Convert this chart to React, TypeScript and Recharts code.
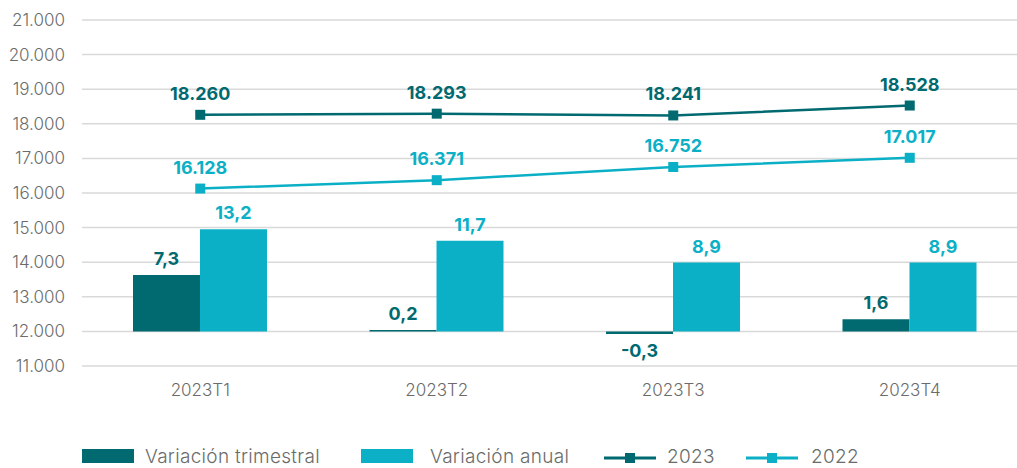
import React from 'react';
import {
  ComposedChart,
  Bar,
  Line,
  XAxis,
  YAxis,
  CartesianGrid,
  LabelList,
} from 'recharts';

const QUARTERS = ['2023T1', '2023T2', '2023T3', '2023T4'];
const VAR_TRIMESTRAL = [7.3, 0.2, -0.3, 1.6];
const VAR_ANUAL = [13.2, 11.7, 8.9, 8.9];
const SERIE_2023 = [18260, 18293, 18241, 18528];
const SERIE_2022 = [16128, 16371, 16752, 17017];
const Y_TICKS = [11000, 12000, 13000, 14000, 15000, 16000, 17000, 18000, 19000, 20000, 21000];
const NAMES = ['Variación trimestral', 'Variación anual', '2023', '2022'];

const DARK = '#006a70';
const LIGHT = '#0cb0c6';
const GRAY = '#6b6b6b';
const FONT = 'Inter, "Open Sans", sans-serif';

const data = QUARTERS.map((q, i) => ({
  name: q,
  trimestral: VAR_TRIMESTRAL[i],
  anual: VAR_ANUAL[i],
  y2023: SERIE_2023[i],
  y2022: SERIE_2022[i],
}));

const thousands = (v: number) => String(v).replace(/\B(?=(\d{3})+(?!\d))/g, '.');
const decimal = (v: number) => v.toFixed(1).replace('.', ',');

const squareDot = (color: string) => (props: any) => {
  const { cx, cy, index } = props;
  return <rect key={`dot-${index}`} x={cx - 5} y={cy - 5} width={10} height={10} fill={color} />;
};

const tickStyle = { fill: GRAY, fontSize: 17, fontWeight: 300, fontFamily: FONT };
const labelStyle = { fontSize: 18, fontWeight: 700, fontFamily: FONT };

// legend drawn by hand so it can sit exactly under the plot
const Legend = () => (
  <svg width={1017} height={468} style={{ position: 'absolute', left: 0, top: 0, pointerEvents: 'none' }}>
    <g fontFamily={FONT} fontSize={19} fontWeight={300} fill={GRAY} letterSpacing={0.3}>
      <rect x={82} y={449} width={52} height={14} fill={DARK} />
      <text x={145} y={463}>{NAMES[0]}</text>
      <rect x={361} y={449} width={52} height={14} fill={LIGHT} />
      <text x={430} y={463}>{NAMES[1]}</text>
      <line x1={604} x2={656} y1={458} y2={458} stroke={DARK} strokeWidth={3} />
      <rect x={625} y={453} width={10} height={10} fill={DARK} />
      <text x={667} y={463}>{NAMES[2]}</text>
      <line x1={746} x2={798} y1={458} y2={458} stroke={LIGHT} strokeWidth={3} />
      <rect x={767} y={453} width={10} height={10} fill={LIGHT} />
      <text x={811} y={463}>{NAMES[3]}</text>
    </g>
  </svg>
);

export default function App() {
  return (
    <div
      style={{
        position: 'absolute',
        left: 0,
        top: 0,
        width: 1017,
        height: 468,
        overflow: 'hidden',
        background: '#fff',
        fontFamily: FONT,
      }}
    >
      <ComposedChart
        width={1030}
        height={400}
        data={data}
        margin={{ top: 20, right: 2, bottom: 0, left: 0 }}
        barGap={0}
      >
        <CartesianGrid yAxisId="left" vertical={false} stroke="#d9d9d9" strokeWidth={1.5} />
        <XAxis
          dataKey="name"
          height={34}
          axisLine={false}
          tickLine={false}
          tickSize={0}
          tickMargin={18}
          tick={tickStyle}
        />
        <YAxis
          yAxisId="left"
          width={82}
          domain={[11000, 21000]}
          ticks={Y_TICKS}
          axisLine={false}
          tickLine={false}
          tickSize={0}
          tickMargin={17}
          tick={tickStyle}
          tickFormatter={thousands}
        />
        <YAxis yAxisId="right" hide domain={[-4.44, 40.18]} allowDataOverflow />
        <Bar yAxisId="right" dataKey="trimestral" fill={DARK} barSize={67} isAnimationActive={false}>
          <LabelList dataKey="trimestral" position="top" offset={10} formatter={decimal} fill={DARK} {...labelStyle} />
        </Bar>
        <Bar yAxisId="right" dataKey="anual" fill={LIGHT} barSize={67} isAnimationActive={false}>
          <LabelList dataKey="anual" position="top" offset={10} formatter={decimal} fill={LIGHT} {...labelStyle} />
        </Bar>
        <Line
          yAxisId="left"
          dataKey="y2023"
          stroke={DARK}
          strokeWidth={2.5}
          dot={squareDot(DARK)}
          activeDot={false}
          isAnimationActive={false}
        >
          <LabelList dataKey="y2023" position="top" offset={15} formatter={thousands} fill={DARK} {...labelStyle} />
        </Line>
        <Line
          yAxisId="left"
          dataKey="y2022"
          stroke={LIGHT}
          strokeWidth={2.5}
          dot={squareDot(LIGHT)}
          activeDot={false}
          isAnimationActive={false}
        >
          <LabelList dataKey="y2022" position="top" offset={15} formatter={thousands} fill={LIGHT} {...labelStyle} />
        </Line>
      </ComposedChart>
      <Legend />
    </div>
  );
}
